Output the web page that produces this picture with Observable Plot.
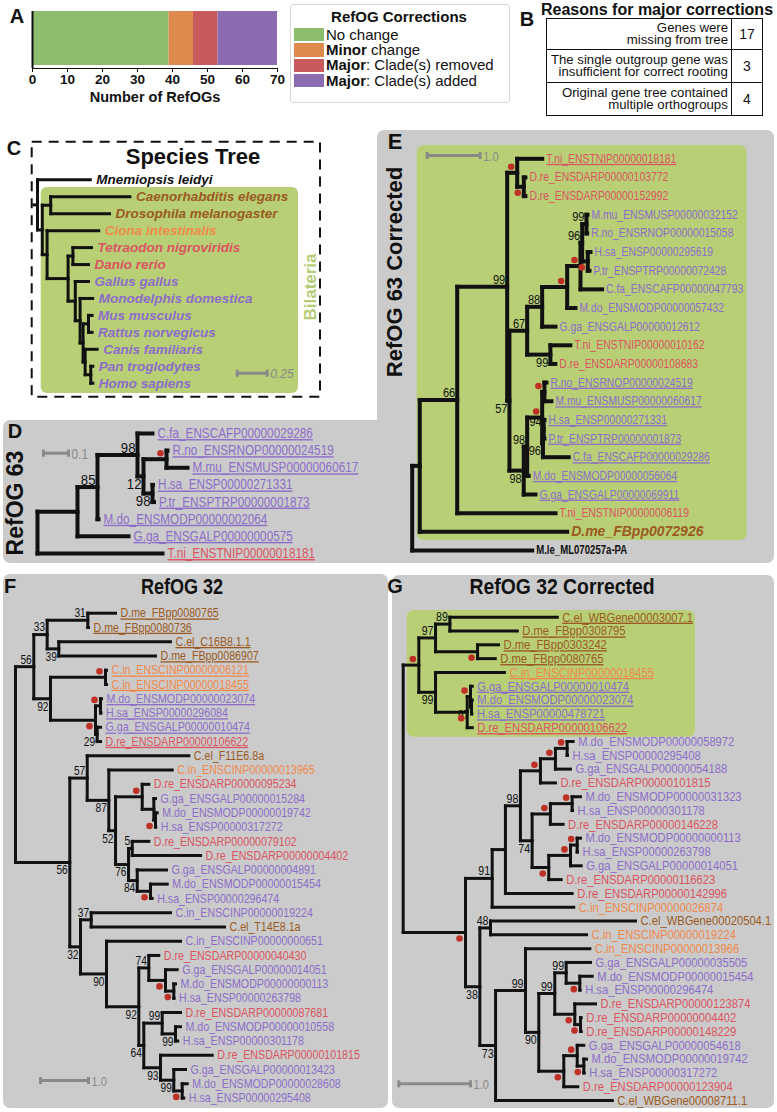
<!DOCTYPE html>
<html><head><meta charset="utf-8">
<script src="https://cdn.jsdelivr.net/npm/d3@7"></script>
<script src="https://cdn.jsdelivr.net/npm/@observablehq/plot@0.6"></script>
<style>
body{margin:0;background:#fff;}
#page{position:relative;width:777px;height:1112px;overflow:hidden;font-family:"Liberation Sans",Arial,sans-serif;background:#fff;color:#111;}
.lbl{position:absolute;white-space:nowrap;line-height:1;}
</style></head><body><div id="page"></div>
<script>
// ---------------- DATA ----------------
const correctionCategories = ["No change", "Minor change", "Major: Clade(s) removed", "Major: Clade(s) added"];
const correctionLegendBold = ["", "Minor", "Major", "Major"];
const correctionLegendRest = ["No change", " change", ": Clade(s) removed", ": Clade(s) added"];
const correctionCounts = [39, 7, 7, 17];
const correctionColors = ["#8bbd6c", "#de8a4f", "#c8595d", "#8c6cb1"];
const countTicks = [0, 10, 20, 30, 40, 50, 60, 70];

const reasonLines = [["Genes were", "missing from tree"], ["The single outgroup gene was", "insufficient for correct rooting"], ["Original gene tree contained", "multiple orthogroups"]];
const reasonCounts = [17, 3, 4];

const speciesNames = ["Mnemiopsis_leidyi","Caenorhabditis_elegans","Drosophila_melanogaster","Ciona_intestinalis","Tetraodon_nigroviridis","Danio_rerio","Gallus_gallus","Monodelphis_domestica","Mus_musculus","Rattus_norvegicus","Canis_familiaris","Pan_troglodytes","Homo_sapiens"];
const speciesCodes = ["M.le","C.el","D.me","C.in","T.ni","D.re","G.ga","M.do","M.mu","R.no","C.fa","P.tr","H.sa"];

// Trees (Newick; internal labels = support values, "*" = red dot)
const speciesTree = "(Mnemiopsis_leidyi:0.44,((Caenorhabditis_elegans:0.66,Drosophila_melanogaster:0.49):0.07,(Ciona_intestinalis:0.43,((Tetraodon_nigroviridis:0.155,Danio_rerio:0.13):0.04,(Gallus_gallus:0.11,(Monodelphis_domestica:0.105,((Mus_musculus:0.03,Rattus_norvegicus:0.03):0.045,(Canis_familiaris:0.1,(Pan_troglodytes:0.017,Homo_sapiens:0.017):0.047):0.017):0.025):0.04):0.06):0.175):0.04):0.04):0.03;";

const refog63Tree = "((((C.fa_ENSCAFP00000029286:0.06,((R.no_ENSRNOP00000024519:0.004,M.mu_ENSMUSP00000060617:0.084)*:0.092,(H.sa_ENSP00000271331:0.002,P.tr_ENSPTRP00000001873:0.006)98:0.036)12:0.024)98:0.16,M.do_ENSMODP00000002064:0.004)85:0.08,G.ga_ENSGALP00000000575:0.204):0.16,T.ni_ENSTNIP00000018181:0.5);";

const refog63CorrectedTree = "(((((T.ni_ENSTNIP00000018181:0.472,(D.re_ENSDARP00000103772:0.03,D.re_ENSDARP00000152992:0.03)*:0.125)*:0.189,(((((((M.mu_ENSMUSP00000032152:0.019,R.no_ENSRNOP00000015058:0.013)99:0.081,(H.sa_ENSP00000295619:0.051,P.tr_ENSPTRP00000072428:0.032)*:0.106)96:0.032,C.fa_ENSCAFP00000047793:0.408)*:0.251,M.do_ENSMODP00000057432:0.157)*:0.472,G.ga_ENSGALP00000012612:0.251)88:0.283,(T.ni_ENSTNIP00000010162:0.377,D.re_ENSDARP00000108683:0.094)99:0.438)67:0.334,((((R.no_ENSRNOP00000024519:0.038,M.mu_ENSMUSP00000060617:0.132)*:0.043,((H.sa_ENSP00000271331:0.013,P.tr_ENSPTRP00000001873:0.013)94:0.015,C.fa_ENSCAFP00000029286:0.486)96:0.015)*:0.283,M.do_ENSMODP00000056064:0.03)98:0.064,G.ga_ENSGALP00000069911:0.221)98:0.27)57:0.043)99:0.943,T.ni_ENSTNIP00000006119:1.855)66:0.706,D.me_FBpp0072926:2.781):0.143,M.le_ML070257a-PA:2.264);";

const refog32Tree = "((((D.me_FBpp0080765:0.577,D.me_FBpp0080736:0.015)31:0.846,(C.el_C16B8.1.1:2.327,D.me_FBpp0086907:2.015)39:0.242)33:0.279,((C.in_ENSCINP00000006121:0.021,C.in_ENSCINP00000018455:0.021)*:1.146,((M.do_ENSMODP00000023074:0.021,H.sa_ENSP00000296084:0.01)*:0.104,(G.ga_ENSGALP00000010474:0.069,D.re_ENSDARP00000106622:0.069)29:0.035)*:0.9375)92:0.348)56:0.381,((C.el_F11E6.8a:2.117,(C.in_ENSCINP00000013965:1.321,((D.re_ENSDARP00000095234:0.1375,(G.ga_ENSGALP00000015284:0.035,(M.do_ENSMODP00000019742:0.035,H.sa_ENSP00000317272:0.005)*:0.035):0.242)*:0.556,((D.re_ENSDARP00000079102:0.346,D.re_ENSDARP00000004402:1.423)5:0.077,(G.ga_ENSGALP00000004891:0.61,(M.do_ENSMODP00000015454:0.348,H.sa_ENSP00000296474:0.035)*:0.277)84:0.181)76:0.271)52:0.14)87:0.45)57:0.363,((C.in_ENSCINP00000019224:1.652,C.el_T14E8.1a:2.777)37:0.223,(C.in_ENSCINP00000000651:1.542,((D.re_ENSDARP00000040430:0.208,(G.ga_ENSGALP00000014051:0.244,(M.do_ENSMODP00000000113:0.035,H.sa_ENSP00000263798:0.005)*:0.173)*:0.348)74:0.208,((D.re_ENSDARP00000087681:0.381,(M.do_ENSMODP00000010558:0.104,H.sa_ENSP00000301178:0.048)99:0.277)99:0.383,(D.re_ENSDARP00000101815:1.077,(G.ga_ENSGALP00000013423:0.244,(M.do_ENSMODP00000028608:0.104,H.sa_ENSP00000295408:0.033)*:0.175)99:0.277)93:0.348)64:0.104)92:0.673)90:0.542)32:0.223)56:1.131);";

const refog32CorrectedTree = "((((C.el_WBGene00003007.1:1.498,D.me_FBpp0308795:0.94)89:0.2,(D.me_FBpp0303242:0.293,D.me_FBpp0080765:0.247)*:0.586)97:0.233,(C.in_ENSCINP00000018455:0.962,((G.ga_ENSGALP00000010474:0.024,(M.do_ENSMODP00000023074:0.01,H.sa_ENSP00000478721:0.005)97:0.014)*:0.046,D.re_ENSDARP00000106622:0.07)*:0.442)99:0.233)*:0.218,(((((((M.do_ENSMODP00000058972:0.084,H.sa_ENSP00000295408:0.005)*:0.163,G.ga_ENSGALP00000054188:0.209)*:0.209,D.re_ENSDARP00000101815:0.209)*:0.279,(((M.do_ENSMODP00000031323:0.116,H.sa_ENSP00000301178:0.005)*:0.303,D.re_ENSDARP00000146228:0.177)*:0.255,(((M.do_ENSMODP00000000113:0.046,H.sa_ENSP00000263798:0.005)*:0.093,G.ga_ENSGALP00000014051:0.149)*:0.303,D.re_ENSDARP00000116623:0.173)*:0.232)74:0.163)98:0.209,D.re_ENSDARP00000142996:0.93):0.185,C.in_ENSCINP00000026874:1.138)91:0.372,((C.el_WBGene00020504.1:2.022,C.in_ENSCINP00000019224:1.339)48:0.149,((C.in_ENSCINP00000013966:0.897,(((G.ga_ENSGALP00000035505:0.339,(M.do_ENSMODP00000015454:0.173,H.sa_ENSP00000296474:0.005)*:0.19)99:0.159,(D.re_ENSDARP00000123874:0.289,(D.re_ENSDARP00000004402:0.01,D.re_ENSDARP00000148229:0.01)*:0.08)*:0.279)99:0.223,((G.ga_ENSGALP00000054618:0.092,(M.do_ENSMODP00000019742:0.038,H.sa_ENSP00000317272:0.005)*:0.092)*:0.187,D.re_ENSDARP00000123904:0.195)*:0.349)90:0.185)99:0.418,C.el_WBGene00008711.1:1.628)73:0.219)38:0.2)*:0.869);";

const refog63Underlined = ["C.fa_ENSCAFP00000029286","R.no_ENSRNOP00000024519","M.mu_ENSMUSP00000060617","H.sa_ENSP00000271331","P.tr_ENSPTRP00000001873","M.do_ENSMODP00000002064","G.ga_ENSGALP00000000575","T.ni_ENSTNIP00000018181"];
const refog63CorrectedUnderlined = ["T.ni_ENSTNIP00000018181","R.no_ENSRNOP00000024519","M.mu_ENSMUSP00000060617","H.sa_ENSP00000271331","P.tr_ENSPTRP00000001873","C.fa_ENSCAFP00000029286","M.do_ENSMODP00000056064","G.ga_ENSGALP00000069911"];
const refog32Underlined = ["D.me_FBpp0080765","D.me_FBpp0080736","C.el_C16B8.1.1","D.me_FBpp0086907","C.in_ENSCINP00000006121","C.in_ENSCINP00000018455","M.do_ENSMODP00000023074","H.sa_ENSP00000296084","G.ga_ENSGALP00000010474","D.re_ENSDARP00000106622"];
const refog32CorrectedUnderlined = ["C.el_WBGene00003007.1","D.me_FBpp0308795","D.me_FBpp0303242","D.me_FBpp0080765","C.in_ENSCINP00000018455","G.ga_ENSGALP00000010474","M.do_ENSMODP00000023074","H.sa_ENSP00000478721","D.re_ENSDARP00000106622"];
const refog32PurpleOverride = ["C.in_ENSCINP00000019224","C.in_ENSCINP00000000651"];

// ---------------- STYLE ----------------
const SANS = "'Liberation Sans', Arial, Helvetica, sans-serif";
const BROWN = "#9a5a22", ORANGE = "#f0894c", RED = "#da5461", PURPLE = "#8c6dc9", BLACK = "#111111";
const GRAY_BOX = "#cbcbcb", GREEN_BOX = "#b8cf76", DOT = "#bf3126";
const codeColor = {"M.le": BLACK, "C.el": BROWN, "D.me": BROWN, "C.in": ORANGE, "T.ni": RED, "D.re": RED};
const colorOfCode = c => codeColor[c] || PURPLE;

const page = document.getElementById("page");

// layout decorations
page.insertAdjacentHTML("beforeend", `
<svg width="777" height="1112" style="position:absolute;left:0;top:0">
 <rect x="3" y="420" width="397" height="143" rx="7" fill="${GRAY_BOX}"/>
 <rect x="377" y="130" width="397" height="433" rx="7" fill="${GRAY_BOX}"/>
 <rect x="3" y="574" width="385" height="534" rx="7" fill="${GRAY_BOX}"/>
 <rect x="392" y="575" width="382" height="533" rx="7" fill="${GRAY_BOX}"/>
 <rect x="416.7" y="145" width="330" height="395" rx="7" fill="${GREEN_BOX}"/>
 <rect x="406.7" y="610" width="288.3" height="126.7" rx="7" fill="${GREEN_BOX}"/>
 <rect x="40.7" y="187" width="257.3" height="206" rx="6" fill="${GREEN_BOX}"/>
 <rect x="31.7" y="141.7" width="288.3" height="255" fill="none" stroke="#111" stroke-width="2" stroke-dasharray="10,7"/>
</svg>`);

function place(el) { el.style.position = "absolute"; el.style.left = "0px"; el.style.top = "0px"; page.appendChild(el); return el; }
function addText(txt, x, y, css, extra) {
  const d = document.createElement("div");
  d.className = "lbl"; d.textContent = txt;
  d.style.left = x + "px"; d.style.top = y + "px";
  d.style.transform = "translate(-50%,-50%)" + (extra ? " " + extra : "");
  Object.assign(d.style, css || {});
  page.appendChild(d); return d;
}
// horizontal condensing of svg text around its anchor
function condense(svg, label, s) {
  svg.querySelectorAll(`g[aria-description="${label}"] text`).forEach(t => {
    const tr = t.getAttribute("transform") || "";
    if (t.hasAttribute("x")) {
      const x = +t.getAttribute("x");
      t.setAttribute("transform", `${tr} translate(${x},0) scale(${s},1) translate(${-x},0)`);
    } else t.setAttribute("transform", `${tr} scale(${s},1)`);
  });
}

// ---------------- PANEL A ----------------
const aData = correctionCategories.map((c, i) => ({cat: c, n: correctionCounts[i], color: correctionColors[i]}));
place(Plot.plot({
  width: 290, height: 110,
  marginLeft: 32, marginRight: 13, marginTop: 11, marginBottom: 42,
  style: {background: "transparent", fontFamily: SANS, fontSize: "13.5px", fontWeight: "bold", color: "#111", overflow: "visible"},
  x: {domain: [0, 70], ticks: countTicks, tickSize: 4, tickPadding: 2, line: true, label: null},
  color: {type: "identity"},
  marks: [
    Plot.barX(aData, {x: "n", fill: "color", insetBottom: 3}),
    Plot.ruleX([0], {strokeWidth: 2}),
    Plot.text(["Number of RefOGs"], {frameAnchor: "bottom", lineAnchor: "middle", dy: 29, text: d => d, fontSize: 14.5, fontWeight: "bold"})
  ]
}));

// legend
page.insertAdjacentHTML("beforeend", `<div style="position:absolute;left:290px;top:4px;width:220px;height:99px;border:1px solid #d9d9d9;border-radius:3px;box-sizing:border-box"></div>`);
addText("RefOG Corrections", 399, 16, {fontSize: "15px", fontWeight: "bold"});
correctionCategories.forEach((c, i) => {
  const top = 27.7 + i * 15.4;
  page.insertAdjacentHTML("beforeend", `<div style="position:absolute;left:293.5px;top:${top}px;width:30.5px;height:13.6px;background:${correctionColors[i]}"></div>`);
  page.insertAdjacentHTML("beforeend", `<div class="lbl" style="left:326px;top:${top + 6.8 - 8}px;font-size:15px;line-height:16px">${correctionLegendBold[i] ? "<b>" + correctionLegendBold[i] + "</b>" : ""}${correctionLegendRest[i]}</div>`);
});

// ---------------- PANEL B ----------------
addText("Reasons for major corrections", 657, 10, {fontSize: "16px", fontWeight: "bold"});
{
  const rowsH = [31, 33, 33];
  let html = `<table style="position:absolute;left:546px;top:18px;width:217px;border-collapse:collapse;font-size:12px;line-height:12.5px">`;
  reasonLines.forEach((ls, i) => {
    html += `<tr style="height:${rowsH[i]}px"><td style="border:1.5px solid #111;text-align:right;padding:0 3px 0 0;white-space:nowrap"><span style="display:inline-block;transform:scaleX(1.1);transform-origin:right center">${ls.join("<br>")}</span></td><td style="border:1.5px solid #111;width:28px;text-align:center;font-size:14px">${reasonCounts[i]}</td></tr>`;
  });
  html += `</table>`;
  page.insertAdjacentHTML("beforeend", html);
}

// ---------------- TREES ----------------
function parseNewick(s) {
  let i = 0;
  function node() {
    const n = {children: [], label: "", len: 0};
    if (s[i] === "(") {
      i++;
      do { n.children.push(node()); } while (s[i] === "," && ++i);
      if (s[i] !== ")") throw new Error("Newick parse error at " + i);
      i++;
    }
    while (i < s.length && !":,);".includes(s[i])) n.label += s[i++];
    if (s[i] === ":") { i++; let num = ""; while (i < s.length && !",);".includes(s[i])) num += s[i++]; n.len = +num; }
    return n;
  }
  return node();
}

function renderTree(cfg) {
  const root = parseNewick(cfg.newick);
  const nodes = [], links = [];
  let k = 0;
  (function rec(n, x, parent, upper) {
    n.x = x; n.parent = parent; n.upper = upper;
    if (n.children.length) {
      n.children.forEach((c, i) => rec(c, x + c.len, n, i === 0));
      const a = n.children[0], b = n.children[n.children.length - 1];
      n.y = (a.y + b.y) / 2;
      links.push({x1: n.x, x2: n.x, y1: a.y, y2: b.y});
      n.dot = n.label.includes("*");
      n.support = n.label.replace("*", "");
    } else { n.y = k++; }
    nodes.push(n);
  })(root, 0, null, true);
  if (k !== cfg.leafCount) throw new Error(cfg.id + ": found " + k + " leaves");
  nodes.forEach(n => { if (n.parent) links.push({x1: n.parent.x, x2: n.x, y1: n.y, y2: n.y}); });
  if (root.len) links.push({x1: -root.len, x2: 0, y1: root.y, y2: root.y});

  const leaves = nodes.filter(n => !n.children.length).map(n => ({x: n.x, y: n.y, name: n.label, text: cfg.display ? cfg.display(n.label) : n.label, color: cfg.colorOf(n.label)}));
  const internal = nodes.filter(n => n.children.length);
  const n = k;
  const marks = [
    Plot.link(links, {x1: "x1", y1: "y1", x2: "x2", y2: "y2", stroke: "#111", strokeWidth: cfg.stroke, strokeLinecap: "square"})
  ];
  const groups = d3.groups(leaves, d => JSON.stringify(cfg.styleOf(d.name)));
  const condenseList = [];
  groups.forEach(([key, arr], gi) => {
    const st = JSON.parse(key);
    const lab = (st.underline ? "underlined" : "leaf") + "-" + gi;
    if (st.scale !== 1) condenseList.push([lab, st.scale]);
    marks.push(Plot.text(arr, {x: "x", y: "y", text: "text", fill: "color", dx: cfg.labelDx, textAnchor: "start",
      fontFamily: SANS, fontSize: st.size, fontWeight: st.weight, fontStyle: st.style, ariaDescription: lab}));
  });
  const sup = internal.filter(d => d.support);
  marks.push(Plot.text(sup.filter(d => d.upper), {x: "x", y: "y", text: "support", textAnchor: "end", dx: -2, dy: -7, fontFamily: SANS, fontSize: cfg.supSize, fill: "#111", ariaDescription: "support-a"}));
  marks.push(Plot.text(sup.filter(d => !d.upper), {x: "x", y: "y", text: "support", textAnchor: "end", dx: -2, dy: 8, fontFamily: SANS, fontSize: cfg.supSize, fill: "#111", ariaDescription: "support-b"}));
  const dots = internal.filter(d => d.dot);
  marks.push(Plot.dot(dots.filter(d => d.upper), {x: "x", y: "y", r: 3.3, fill: DOT, dx: -6, dy: -6}));
  marks.push(Plot.dot(dots.filter(d => !d.upper), {x: "x", y: "y", r: 3.3, fill: DOT, dx: -6, dy: 6}));
  // scale bar
  const sb = cfg.scaleBar;
  const sx = (sb.px - cfg.rootX) / cfg.ppu, sy = (sb.py - cfg.y0) / cfg.step, cap = 3.5 / cfg.step;
  marks.push(Plot.link([{x1: sx, x2: sx + sb.len, y1: sy, y2: sy}, {x1: sx, x2: sx, y1: sy - cap, y2: sy + cap}, {x1: sx + sb.len, x2: sx + sb.len, y1: sy - cap, y2: sy + cap}],
    {x1: "x1", y1: "y1", x2: "x2", y2: "y2", stroke: "#8a8a8a", strokeWidth: 3}));
  marks.push(Plot.text([sb.label], {x: sx + sb.len, y: sy, text: d => d, dx: 3, dy: 1, textAnchor: "start", fill: "#8a8a8a", fontFamily: SANS, fontStyle: sb.italic ? "italic" : "normal", fontSize: sb.size, ariaDescription: "scalebar-label"}));

  const svg = Plot.plot({
    width: 777, height: 1112, margin: 0,
    x: {domain: [0, 1], range: [cfg.rootX, cfg.rootX + cfg.ppu], axis: null},
    y: {domain: [0, n - 1], range: [cfg.y0, cfg.y0 + (n - 1) * cfg.step], axis: null},
    color: {type: "identity"},
    style: {background: "transparent", overflow: "visible"},
    marks
  });
  svg.querySelectorAll('g[aria-description^="underlined"] text').forEach(t => { t.style.textDecoration = "underline"; t.setAttribute("text-decoration", "underline"); });
  condenseList.forEach(([lab, s]) => condense(svg, lab, s));
  condense(svg, "support-a", cfg.supScale);
  condense(svg, "support-b", cfg.supScale);
  if (!sb.italic) condense(svg, "scalebar-label", 0.85);
  place(svg);
}

const geneStyle = (size, scale, underlinedList) => name => ({size, scale, weight: "normal", style: "normal", underline: underlinedList.includes(name)});

// C species tree
renderTree({
  id: "C", newick: speciesTree, leafCount: 13, rootX: 37, ppu: 120, y0: 179.3, step: 16.95, stroke: 3, labelDx: 6, supSize: 12, supScale: 1,
  display: s => s.replace(/_/g, " "),
  colorOf: s => colorOfCode(speciesCodes[speciesNames.indexOf(s)]),
  styleOf: () => ({size: 13.5, scale: 1, weight: "bold", style: "italic", underline: false}),
  scaleBar: {px: 236.7, py: 372.7, len: 0.25, label: "0.25", italic: true, size: 12}
});
// D
renderTree({
  id: "D", newick: refog63Tree, leafCount: 8, rootX: 37, ppu: 250, y0: 433, step: 17.14, stroke: 4, labelDx: 5, supSize: 15.5, supScale: 0.85,
  colorOf: s => colorOfCode(s.slice(0, 4)),
  styleOf: geneStyle(14, 0.84, refog63Underlined),
  scaleBar: {px: 43, py: 452.7, len: 0.1, label: "0.1", size: 14}
});
// E
renderTree({
  id: "E", newick: refog63CorrectedTree, leafCount: 22, rootX: 411.7, ppu: 53, y0: 158.3, step: 18.65, stroke: 4, labelDx: 4, supSize: 13, supScale: 0.85,
  colorOf: s => colorOfCode(s.slice(0, 4)),
  styleOf: name => name.startsWith("D.me") ? {size: 14, scale: 1, weight: "bold", style: "italic", underline: false}
    : name.startsWith("M.le") ? {size: 12, scale: 0.8, weight: "bold", style: "normal", underline: false}
    : geneStyle(12.5, 0.83, refog63CorrectedUnderlined)(name),
  scaleBar: {px: 426.7, py: 155, len: 1, label: "1.0", size: 13}
});
// F
renderTree({
  id: "F", newick: refog32Tree, leafCount: 35, rootX: 15, ppu: 48, y0: 612.7, step: 14.26, stroke: 3, labelDx: 5, supSize: 12, supScale: 0.85,
  colorOf: s => refog32PurpleOverride.includes(s) ? PURPLE : colorOfCode(s.slice(0, 4)),
  styleOf: geneStyle(13, 0.82, refog32Underlined),
  scaleBar: {px: 40, py: 1080, len: 1, label: "1.0", size: 13}
});
// G
renderTree({
  id: "G", newick: refog32CorrectedTree, leafCount: 36, rootX: 402.7, ppu: 71.7, y0: 616.7, step: 13.81, stroke: 3, labelDx: 5, supSize: 12.5, supScale: 0.85,
  colorOf: s => colorOfCode(s.slice(0, 4)),
  styleOf: geneStyle(13.5, 0.83, refog32CorrectedUnderlined),
  scaleBar: {px: 398.3, py: 1083.3, len: 1, label: "1.0", size: 13}
});

// ---------------- TITLES / LETTERS ----------------
const L = {fontSize: "20px", fontWeight: "bold"};
addText("A", 17, 16, L);
addText("B", 527, 19, L);
addText("C", 14, 148, L);
addText("D", 15, 431, L);
addText("E", 395, 142, {fontSize: "22px", fontWeight: "bold"});
addText("F", 10, 586, L);
addText("G", 395, 586, L);
addText("Species Tree", 193, 157, {fontSize: "22px", fontWeight: "bold"});
addText("Bilateria", 310, 287, {fontSize: "17px", fontWeight: "bold", color: "#b5cd73"}, "rotate(-90deg)");
addText("RefOG 63", 15, 503, {fontSize: "23px", fontWeight: "bold"}, "rotate(-90deg)");
addText("RefOG 63 Corrected", 395, 272, {fontSize: "22px", fontWeight: "bold"}, "rotate(-90deg)");
addText("RefOG 32", 182, 587, {fontSize: "22px", fontWeight: "bold"}, "scaleX(0.82)");
addText("RefOG 32 Corrected", 562, 587, {fontSize: "22px", fontWeight: "bold"}, "scaleX(0.88)");
</script>
</body></html>
